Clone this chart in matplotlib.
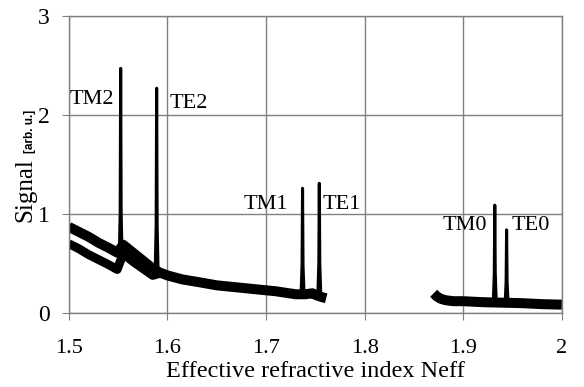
import matplotlib
matplotlib.use("Agg")
import matplotlib.pyplot as plt

# baseline of the scan
# upper trace runs from 1.5 up to the end of the TE1 peak
upper_x = [1.500, 1.510, 1.520, 1.530, 1.540, 1.549, 1.555, 1.565, 1.575, 1.585,
           1.592, 1.600, 1.615, 1.633, 1.650, 1.670, 1.690, 1.710, 1.730, 1.740,
           1.747, 1.751, 1.757, 1.761]
upper_y = [0.87, 0.82, 0.77, 0.71, 0.66, 0.61, 0.69, 0.61, 0.53, 0.45,
           0.41, 0.38, 0.34, 0.31, 0.28, 0.26, 0.24, 0.22, 0.19, 0.19,
           0.20, 0.18, 0.16, 0.15]
# second (lower) trace, merges with the upper one after TE2
lower_x = [1.500, 1.510, 1.520, 1.530, 1.540, 1.549, 1.555, 1.565, 1.575, 1.585, 1.592]
lower_y = [0.70, 0.65, 0.59, 0.54, 0.49, 0.44, 0.60, 0.52, 0.45, 0.38, 0.40]

end_x = [1.870, 1.873, 1.877, 1.882, 1.890, 1.900, 1.920, 1.940, 1.960, 1.980, 2.000]
end_y = [0.20, 0.17, 0.145, 0.13, 0.12, 0.12, 0.11, 0.105, 0.10, 0.09, 0.085]

# mode peaks
peak_name = ["TM2", "TE2", "TM1", "TE1", "TM0", "TE0"]
peak_pos = [1.5525, 1.5890, 1.7370, 1.7540, 1.9320, 1.9440]
peak_top = [2.47, 2.27, 1.26, 1.31, 1.09, 0.84]
peak_base = [0.55, 0.40, 0.19, 0.18, 0.11, 0.10]

# label positions
label_x = [1.5005, 1.6025, 1.7225, 1.7575, 1.9245, 1.9490]
label_y = [2.16, 2.12, 1.10, 1.10, 0.88, 0.88]
label_ha = ["left", "left", "right", "left", "right", "left"]

serif = "Liberation Serif"
grid_c = "#808080"

fig = plt.figure(figsize=(5.84, 3.87), dpi=100)
ax = fig.add_axes([0.118, 0.191, 0.844, 0.768])

lw_band = 7.2
ax.plot(upper_x, upper_y, color="black", lw=lw_band, solid_joinstyle="round", solid_capstyle="butt")
ax.plot(lower_x, lower_y, color="black", lw=lw_band - 0.8, solid_joinstyle="round", solid_capstyle="butt")
ax.plot(end_x, end_y, color="black", lw=lw_band, solid_joinstyle="round", solid_capstyle="butt")

w = 0.0015
for p, t, b in zip(peak_pos, peak_top, peak_base):
    ax.plot([p - w, p - w / 3, p, p + w / 3, p + w], [b, (b + t) / 3, t, (b + t) / 3, b],
            color="black", lw=2.2)

for n, x, y, ha in zip(peak_name, label_x, label_y, label_ha):
    ax.text(x, y, n, ha=ha, va="center", fontsize=16, family=serif)

ax.set_xlim(1.5, 2.0)
ax.set_ylim(0, 3)
ax.set_xticks([1.5, 1.6, 1.7, 1.8, 1.9, 2.0])
ax.set_xticklabels(["1.5", "1.6", "1.7", "1.8", "1.9", "2"])
ax.set_yticks([0, 1, 2, 3])
ax.grid(True, color=grid_c, lw=1)
ax.set_axisbelow(True)
for s in ax.spines.values():
    s.set_color(grid_c)
    s.set_linewidth(1)
ax.tick_params(axis="x", direction="out", length=5, color=grid_c, pad=14)
ax.tick_params(axis="y", direction="out", length=5, color=grid_c, pad=9)
for lab in ax.get_xticklabels():
    lab.set_family(serif)
    lab.set_fontsize(16)
for lab in ax.get_yticklabels():
    lab.set_family(serif)
    lab.set_fontsize(17)

ax.set_xlabel("Effective refractive index Neff", family=serif, fontsize=17.5, va="top")
ax.xaxis.set_label_coords(0.5, -0.162)
fig.text(0.043, 0.51, "Signal", rotation=90, ha="center", va="center", family=serif, fontsize=18)
fig.text(0.051, 0.66, "[arb. u.]", rotation=90, ha="center", va="center",
         family="Liberation Sans", fontsize=8.5, weight="bold")

fig.savefig("out.png", dpi=100)
